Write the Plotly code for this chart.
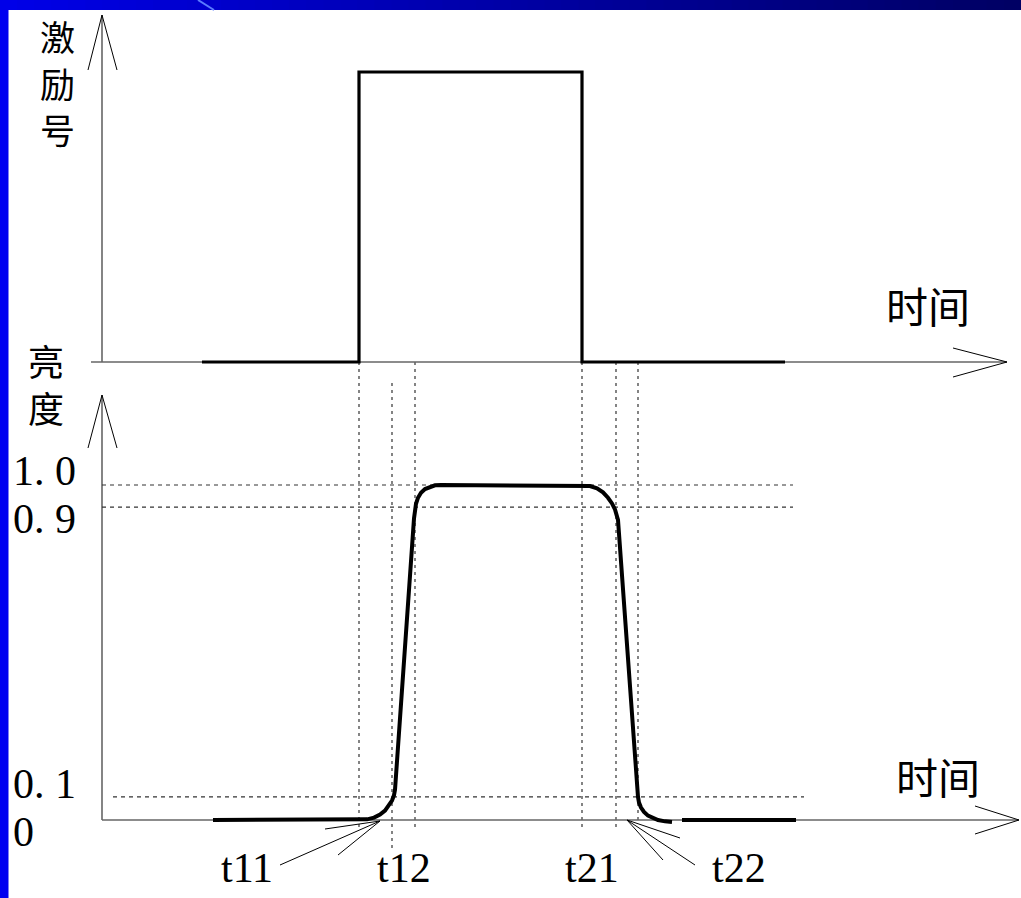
import plotly.graph_objects as go

# ---------------- data ----------------
# excitation pulse (time units, arbitrary; excitation 0/1)
exc_time = [10.0, 25.7, 25.7, 48.0, 48.0, 68.3]
exc_value = [0, 0, 1, 1, 0, 0]

# brightness response (time, relative brightness)
bri_time = [11.1, 25.8, 26.5, 27.2, 27.8, 28.3, 28.7, 29.0, 29.2, 29.3,
            31.2, 31.25, 31.4, 31.6, 31.9, 32.3, 32.8, 33.3, 33.9, 34.5,
            48.1, 48.8, 49.5, 50.1, 50.6, 51.0, 51.3, 51.5, 51.6,
            53.6, 53.7, 53.9, 54.2, 54.6, 55.1, 55.6, 56.3, 57.0]
bri_value = [0.0, 0.0, 0.002, 0.007, 0.016, 0.028, 0.043, 0.058, 0.074, 0.09,
             0.90, 0.922, 0.944, 0.962, 0.977, 0.988, 0.995, 0.999, 1.0, 1.0,
             1.0, 0.997, 0.990, 0.978, 0.962, 0.945, 0.927, 0.910, 0.896,
             0.069, 0.052, 0.037, 0.024, 0.013, 0.005, 0.0, -0.004, -0.006]
tail_time = [58.0, 69.4]
tail_value = [0.0, 0.0]

# event times (dashed verticals)
event_times = [25.7, 29.0, 31.3, 48.0, 51.4, 53.6]
event_labels = ["t11", "t12", "t21", "t22"]
event_label_times = [14.5, 30.2, 49.0, 63.7]

# brightness guide levels as drawn
guide_levels = [1.0, 0.934, 0.069]
guide_ends = [69.1, 69.1, 70.2]
guide_starts = [0.0, 0.0, 1.1]
level_labels = ["1. 0", "0. 9", "0. 1", "0"]

W, H = 1021, 898
X_RANGE = [-10.2, 91.9]
Y_BRI = [-0.23284, 2.44776]
Y_EXC = [-1.84828, 1.24828]

def px(xp):
    return xp / W

def py(yp):
    return 1 - yp / H

fig = go.Figure()

fig.add_trace(go.Scatter(x=exc_time, y=exc_value, yaxis="y2", mode="lines",
                         line=dict(color="black", width=3.2), hoverinfo="skip"))
fig.add_trace(go.Scatter(x=bri_time, y=bri_value, mode="lines",
                         line=dict(color="black", width=4), hoverinfo="skip"))
fig.add_trace(go.Scatter(x=tail_time, y=tail_value, mode="lines",
                         line=dict(color="black", width=4), hoverinfo="skip"))

shapes = []
# background frame (blue border + gradient top bar)
shapes.append(dict(type="rect", xref="paper", yref="paper", x0=0, x1=px(8.5), y0=0, y1=1,
                   fillcolor="#0000F0", line=dict(width=0), layer="below"))
N = 60
for i in range(N):
    f = i / (N - 1)
    b = int(232 - f * (232 - 100))
    shapes.append(dict(type="rect", xref="paper", yref="paper",
                       x0=px(W * i / N), x1=px(W * (i + 1) / N) + 0.001,
                       y0=py(10), y1=1, fillcolor=f"rgb(0,0,{b})",
                       line=dict(width=0), layer="below"))
shapes.append(dict(type="line", xref="paper", yref="paper", x0=px(198), y0=py(0),
                   x1=px(214), y1=py(10), line=dict(color="#5a7cff", width=2)))

# dashed event verticals
ev_top = [362, 383, 362, 362, 362, 362]
ev_bot = [830, 852, 830, 830, 830, 822]
for t, a, b in zip(event_times, ev_top, ev_bot):
    shapes.append(dict(type="line", xref="x", yref="paper", x0=t, x1=t, y0=py(a), y1=py(b),
                       line=dict(color="#333", width=1.2, dash="3px,4px"), layer="below"))
# dashed level lines
for lv, s, e in zip(guide_levels, guide_starts, guide_ends):
    shapes.append(dict(type="line", xref="x", yref="y", x0=s, x1=e, y0=lv, y1=lv,
                       line=dict(color="#333", width=1.2, dash="4px,4px"), layer="below"))

axis_col = "#666"
def seg(x0, y0, x1, y1, color="black", width=1):
    shapes.append(dict(type="line", xref="paper", yref="paper", x0=px(x0), y0=py(y0),
                       x1=px(x1), y1=py(y1), line=dict(color=color, width=width),
                       layer="below"))

# axes
seg(102, 362, 102, 15, axis_col, 1.6)
seg(88, 70, 102, 15); seg(117, 70, 102, 15)
seg(91, 362, 1007, 362, axis_col, 1.6)
seg(953, 348, 1007, 362); seg(953, 377, 1007, 362)
seg(102, 820, 102, 395, axis_col, 1.6)
seg(88, 448, 102, 395); seg(117, 448, 102, 395)
seg(102, 820, 1019, 820, axis_col, 1.6)
seg(975, 806, 1019, 820); seg(975, 834, 1019, 820)

# leader lines
for (a, b) in [(325, 829), (280, 865), (338, 855)]:
    seg(380, 821, a, b, "black", 1)
for (a, b) in [(680, 838), (663, 860), (695, 865)]:
    seg(627, 820, a, b, "black", 1)

ann = []
CJK = "Noto Sans CJK SC, Noto Sans CJK JP, sans-serif"
SER = "Liberation Serif, DejaVu Serif, serif"
def txt(s, x, y, font, size, xanchor="center"):
    ann.append(dict(text=s, xref="paper", yref="paper", x=px(x), y=py(y),
                    xanchor=xanchor, yanchor="middle", showarrow=False,
                    font=dict(family=font, size=size, color="black")))

for ch, yy in zip("激励号", [36, 82, 128]):
    txt(ch, 57, yy, CJK, 35)
txt("亮<br>度", 46, 384, CJK, 36)
txt("时间", 928, 305, CJK, 42)
txt("时间", 938, 775, CJK, 42)
for s, yy in zip(level_labels, [471, 519, 784, 832]):
    txt(s, 11, yy, SER, 42, "left")
for s, t in zip(event_labels, event_label_times):
    ann.append(dict(text=s, xref="x", yref="paper", x=t, y=py(868), xanchor="center",
                    yanchor="middle", showarrow=False,
                    font=dict(family=SER, size=42, color="black")))

fig.update_layout(
    width=W, height=H, margin=dict(l=0, r=0, t=0, b=0),
    paper_bgcolor="white", plot_bgcolor="white", showlegend=False,
    xaxis=dict(range=X_RANGE, visible=False, fixedrange=True),
    yaxis=dict(range=Y_BRI, visible=False, fixedrange=True),
    yaxis2=dict(range=Y_EXC, visible=False, overlaying="y", fixedrange=True),
    shapes=shapes, annotations=ann,
)

fig.write_html("out.html", config={"displayModeBar": False, "staticPlot": True},
               post_script="document.body.style.margin='0';document.body.style.overflow='hidden';")
